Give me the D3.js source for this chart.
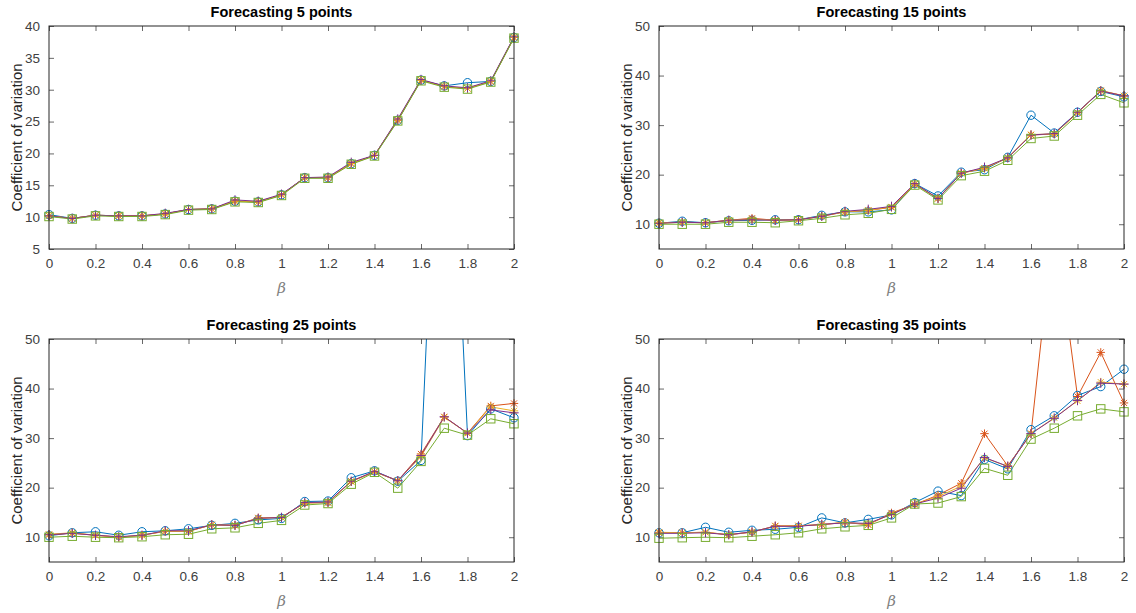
<!DOCTYPE html>
<html>
<head>
<meta charset="utf-8">
<script src="https://cdn.jsdelivr.net/npm/d3@7"></script>
<style>
  body { margin: 0; background: #fff; }
  text { font-family: "Liberation Sans", Arial, sans-serif; }
</style>
</head>
<body>
<div class="canvas"></div>
<script>
const beta = d3.range(21).map(i => i / 10);
const xTicks = [0, 0.2, 0.4, 0.6, 0.8, 1, 1.2, 1.4, 1.6, 1.8, 2];

// forecasting 5 points
const p5Blue   = [10.4, 9.8, 10.3, 10.2, 10.2, 10.5, 11.2, 11.3, 12.5, 12.4, 13.5, 16.2, 16.2, 18.4, 19.7, 25.2, 31.5, 30.6, 31.1, 31.3, 38.2];
const p5Orange = [10.2, 9.8, 10.3, 10.2, 10.2, 10.5, 11.2, 11.3, 12.5, 12.4, 13.5, 16.2, 16.2, 18.4, 19.7, 25.2, 31.5, 30.5, 30.2, 31.3, 38.2];
const p5Yellow = [10.2, 9.8, 10.3, 10.2, 10.2, 10.5, 11.2, 11.3, 12.5, 12.4, 13.5, 16.2, 16.2, 18.4, 19.7, 25.3, 31.5, 30.5, 30.2, 31.3, 38.2];
const p5Purple = [10.2, 9.8, 10.3, 10.2, 10.2, 10.6, 11.2, 11.3, 12.7, 12.5, 13.6, 16.2, 16.3, 18.6, 19.7, 25.4, 31.6, 30.6, 30.3, 31.4, 38.3];
const p5Green  = [10.1, 9.7, 10.2, 10.1, 10.1, 10.4, 11.1, 11.2, 12.4, 12.3, 13.4, 16.1, 16.1, 18.3, 19.6, 25.1, 31.4, 30.4, 30.1, 31.2, 38.1];

// forecasting 15 points
const p15Blue   = [10.2, 10.6, 10.3, 10.7, 10.8, 10.9, 10.9, 11.8, 12.5, 12.5, 12.9, 18.2, 15.7, 20.5, 21.0, 23.5, 32.0, 28.4, 32.6, 36.8, 35.7];
const p15Orange = [10.2, 10.4, 10.3, 10.8, 11.2, 10.8, 10.9, 11.6, 12.5, 12.8, 13.4, 18.1, 15.2, 20.3, 21.3, 23.4, 28.0, 28.2, 32.5, 36.9, 35.9];
const p15Yellow = [10.3, 10.4, 10.3, 10.8, 11.0, 10.8, 10.9, 11.6, 12.5, 12.8, 13.5, 18.1, 15.2, 20.3, 21.3, 23.4, 28.1, 28.2, 32.5, 37.0, 35.9];
const p15Purple = [10.2, 10.4, 10.3, 10.8, 10.9, 10.8, 10.9, 11.6, 12.6, 13.0, 13.6, 18.2, 15.2, 20.3, 21.5, 23.4, 28.0, 28.3, 32.6, 36.9, 35.9];
const p15Green  = [10.0, 10.0, 10.0, 10.4, 10.4, 10.3, 10.7, 11.2, 11.9, 12.2, 13.0, 17.9, 14.9, 19.8, 20.7, 22.9, 27.3, 27.8, 32.0, 36.2, 34.5];

// forecasting 25 points
const p25Blue   = [10.3, 10.9, 11.1, 10.4, 11.1, 11.3, 11.7, 12.4, 12.8, 13.5, 13.8, 17.2, 17.3, 22.0, 23.4, 21.3, 25.5, 130, 30.5, 35.9, 34.1];
const p25Orange = [10.5, 10.8, 10.4, 10.0, 10.4, 11.2, 11.2, 12.5, 12.4, 13.9, 14.0, 16.9, 17.0, 21.3, 23.2, 21.4, 26.8, 34.3, 31.0, 36.5, 37.0];
const p25Yellow = [10.6, 10.9, 10.4, 10.0, 10.4, 11.2, 11.2, 12.5, 12.4, 13.8, 14.0, 16.9, 17.0, 21.2, 23.2, 21.4, 26.3, 34.2, 31.0, 36.3, 35.5];
const p25Purple = [10.5, 10.8, 10.4, 10.1, 10.4, 11.3, 11.3, 12.5, 12.4, 13.8, 14.0, 17.0, 17.1, 21.3, 23.3, 21.4, 26.5, 34.3, 31.0, 35.7, 35.1];
const p25Green  = [10.0, 10.2, 10.0, 9.9, 10.1, 10.5, 10.6, 11.7, 11.9, 12.8, 13.4, 16.5, 16.8, 20.7, 23.1, 19.9, 25.3, 32.0, 30.6, 33.9, 32.9];

// forecasting 35 points
const p35Blue   = [10.9, 10.9, 12.0, 11.0, 11.4, 11.6, 12.0, 13.9, 12.9, 13.6, 14.5, 17.0, 19.3, 18.4, 25.7, 23.8, 31.7, 34.5, 38.6, 40.4, 43.9];
const p35Orange = [10.9, 10.9, 11.0, 10.5, 11.0, 12.3, 12.3, 12.5, 13.0, 12.5, 14.9, 16.6, 18.5, 20.9, 30.9, 24.4, 30.9, 74, 38.4, 47.3, 37.1];
const p35Yellow = [11.0, 10.9, 11.0, 10.5, 11.1, 12.2, 12.3, 12.6, 13.0, 12.6, 14.7, 16.7, 18.2, 20.3, 26.0, 24.3, 30.9, 34.1, 37.5, 41.3, 40.9];
const p35Purple = [10.8, 10.8, 10.9, 10.5, 11.1, 12.2, 12.2, 12.6, 12.9, 12.8, 14.6, 16.7, 17.9, 19.9, 26.1, 24.3, 30.9, 34.0, 37.6, 41.1, 40.9];
const p35Green  = [9.8, 9.9, 10.0, 9.9, 10.2, 10.5, 10.9, 11.7, 12.1, 12.4, 13.9, 16.7, 16.9, 18.2, 23.9, 22.5, 29.8, 32.0, 34.5, 35.9, 35.3];

const seriesStyle = [
  {color: "#0072BD", marker: "o"},
  {color: "#D95319", marker: "*"},
  {color: "#EDB120", marker: "*"},
  {color: "#7E2F8E", marker: "+"},
  {color: "#77AC30", marker: "s"}
];

const panels = [
  {title: "Forecasting 5 points",  left: 49,  top: 26,  yDomain: [5, 40], yTicks: [5, 10, 15, 20, 25, 30, 35, 40], data: [p5Blue, p5Orange, p5Yellow, p5Purple, p5Green]},
  {title: "Forecasting 15 points", left: 659, top: 26,  yDomain: [5, 50], yTicks: [10, 20, 30, 40, 50], data: [p15Blue, p15Orange, p15Yellow, p15Purple, p15Green]},
  {title: "Forecasting 25 points", left: 49,  top: 339, yDomain: [5, 50], yTicks: [10, 20, 30, 40, 50], data: [p25Blue, p25Orange, p25Yellow, p25Purple, p25Green]},
  {title: "Forecasting 35 points", left: 659, top: 339, yDomain: [5, 50], yTicks: [10, 20, 30, 40, 50], data: [p35Blue, p35Orange, p35Yellow, p35Purple, p35Green]}
];

const dims = {width: 465, height: 223};
const axisColor = "#262626";
const textColor = "#404040";

const svg = d3.select(".canvas").append("svg")
    .attr("width", 1136)
    .attr("height", 613);

const drawMarker = (g, type, color) => {
  const r = 4.2;
  if (type === "o") {
    g.append("circle").attr("r", r).attr("fill", "none").attr("stroke", color);
  } else if (type === "s") {
    g.append("rect").attr("x", -r).attr("y", -r).attr("width", 2 * r).attr("height", 2 * r)
      .attr("fill", "none").attr("stroke", color);
  } else if (type === "+") {
    g.append("path").attr("d", `M${-r - 0.5},0H${r + 0.5}M0,${-r - 0.5}V${r + 0.5}`).attr("stroke", color);
  } else {
    const d = r * 0.72;
    g.append("path")
      .attr("d", `M${-r},0H${r}M0,${-r}V${r}M${-d},${-d}L${d},${d}M${-d},${d}L${d},${-d}`)
      .attr("stroke", color);
  }
};

panels.forEach((p, pi) => {
  const x = d3.scaleLinear().domain([0, 2]).range([0, dims.width]);
  const y = d3.scaleLinear().domain(p.yDomain).range([dims.height, 0]);

  const graph = svg.append("g").attr("transform", `translate(${p.left},${p.top})`);

  graph.append("rect")
    .attr("width", dims.width).attr("height", dims.height)
    .attr("fill", "#fff");

  const clipId = "clip" + pi;
  graph.append("clipPath").attr("id", clipId)
    .append("rect").attr("width", dims.width).attr("height", dims.height);

  // ticks inside, on all four sides
  const tl = 5;
  const xBottom = d3.axisBottom(x).tickValues(xTicks).tickSizeInner(-tl).tickSizeOuter(0)
    .tickFormat(d3.format("~g")).tickPadding(9);
  const yLeft = d3.axisLeft(y).tickValues(p.yTicks).tickSizeInner(-tl).tickSizeOuter(0)
    .tickPadding(9);

  const gx = graph.append("g").attr("transform", `translate(0,${dims.height})`).call(xBottom);
  const gy = graph.append("g").call(yLeft);
  const gxt = graph.append("g").call(d3.axisTop(x).tickValues(xTicks).tickSizeInner(-tl).tickSizeOuter(0).tickFormat(""));
  const gyr = graph.append("g").attr("transform", `translate(${dims.width},0)`)
    .call(d3.axisRight(y).tickValues(p.yTicks).tickSizeInner(-tl).tickSizeOuter(0).tickFormat(""));

  [gx, gy, gxt, gyr].forEach(a => {
    a.select(".domain").remove();
    a.selectAll(".tick line").attr("stroke", axisColor).attr("stroke-width", 0.7);
    a.selectAll("text").attr("fill", textColor).style("font-size", "13.5px")
      .style("font-family", "'Liberation Sans', Arial, sans-serif");
  });

  // lines are clipped to the axes box, markers only drawn when inside the limits
  const lines = graph.append("g").attr("clip-path", `url(#${clipId})`);
  const marks = graph.append("g");
  const line = d3.line().x((d, i) => x(beta[i])).y(d => y(d));

  p.data.forEach((vals, si) => {
    const st = seriesStyle[si];
    lines.append("path")
      .datum(vals)
      .attr("fill", "none")
      .attr("stroke", st.color)
      .attr("stroke-width", 1)
      .attr("d", line);

    vals.forEach((v, i) => {
      if (v > p.yDomain[1] || v < p.yDomain[0]) return;
      const m = marks.append("g")
        .attr("transform", `translate(${x(beta[i])},${y(v)})`)
        .attr("stroke-width", 1);
      drawMarker(m, st.marker, st.color);
    });
  });

  graph.append("rect")
    .attr("width", dims.width).attr("height", dims.height)
    .attr("fill", "none").attr("stroke", axisColor).attr("stroke-width", 1);

  graph.append("text")
    .attr("x", dims.width / 2).attr("y", -9)
    .attr("text-anchor", "middle")
    .attr("fill", "#000")
    .style("font-size", "14.5px").style("font-weight", "bold")
    .text(p.title);

  graph.append("text")
    .attr("x", dims.width / 2).attr("y", dims.height + 44)
    .attr("text-anchor", "middle")
    .attr("fill", "#808080")
    .style("font-size", "15px").style("font-style", "italic")
    .style("font-family", "'DejaVu Serif', serif")
    .text("β");

  graph.append("text")
    .attr("transform", `translate(-27,${dims.height / 2}) rotate(-90)`)
    .attr("text-anchor", "middle")
    .attr("fill", "#262626")
    .style("font-size", "15px")
    .text("Coefficient of variation");
});
</script>
</body>
</html>
